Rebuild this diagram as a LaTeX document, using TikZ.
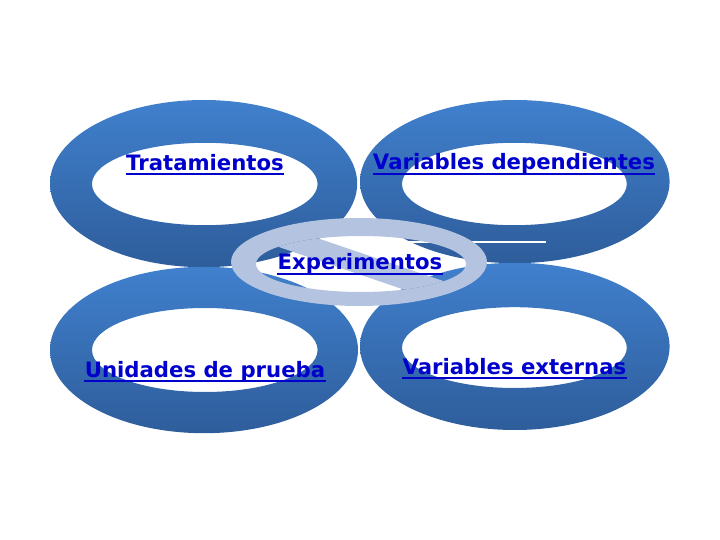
\documentclass[tikz,border=0pt]{standalone}
\usepackage{fontspec}
\setmainfont{DejaVu Sans}
\usepackage{tikz}
\usetikzlibrary{calc}
\definecolor{ringtop}{RGB}{64,128,205}
\definecolor{ringbot}{RGB}{46,93,155}
\definecolor{hubring}{RGB}{180,196,224}
\definecolor{linkblue}{RGB}{0,0,204}
\tikzset{
  ringshade/.style={top color=ringtop, bottom color=ringbot, even odd rule},
  linklabel/.style={text=linkblue, font=\bfseries\fontsize{15.1}{18}\selectfont,
                    inner sep=0pt, anchor=base},
  linkline/.style={draw=linkblue, line width=1.3pt}
}

\begin{document}
\begin{tikzpicture}
  \useasboundingbox (0,0) rectangle (18,13.5);
  % Four blue rings, lighter at the top
  \shade[ringshade] (5.09,8.91) ellipse (3.84 and 2.09) (5.12,8.9) ellipse (2.82 and 1.03);
  \shade[ringshade] (12.87,8.96) ellipse (3.87 and 2.04) (12.86,8.9) ellipse (2.81 and 1.03);
  \shade[ringshade] (5.1,4.75) ellipse (3.85 and 2.08) (5.12,4.75) ellipse (2.82 and 1.05);
  \shade[ringshade] (12.87,4.84) ellipse (3.87 and 2.09) (12.86,4.81) ellipse (2.81 and 1.01);
  % Thin white streak
  \draw[white, line width=1pt] (10.0,7.45) -- (13.65,7.45);
  % Centre ring with its slash
  \fill[hubring, even odd rule] (8.975,6.95) ellipse (3.2 and 1.1) (9.025,6.9) ellipse (2.625 and 0.7);
  \begin{scope}
    \clip (9.025,6.9) ellipse (2.625 and 0.7);
    \fill[hubring] (6.25,8.12) -- (11.875,6.205) -- (11.875,5.655) -- (6.25,7.57) -- cycle;
  \end{scope}
  % Labels, underlined like links
  \node[linklabel] (trat) at (5.125,9.23) {Tratamientos};
  \draw[linkline] ($(trat.base west)+(0,-0.09)$) -- ($(trat.base east)+(0,-0.09)$);
  \node[linklabel] (vardep) at (12.85,9.25) {Variables dependientes};
  \draw[linkline] ($(vardep.base west)+(0,-0.09)$) -- ($(vardep.base east)+(0,-0.09)$);
  \node[linklabel] (exper) at (9.0,6.75) {Experimentos};
  \draw[linkline] ($(exper.base west)+(0,-0.09)$) -- ($(exper.base east)+(0,-0.09)$);
  \node[linklabel] (unid) at (5.125,4.07) {Unidades de prueba};
  \draw[linkline] ($(unid.base west)+(0,-0.09)$) -- ($(unid.base east)+(0,-0.09)$);
  \node[linklabel] (varext) at (12.86,4.14) {Variables externas};
  \draw[linkline] ($(varext.base west)+(0,-0.09)$) -- ($(varext.base east)+(0,-0.09)$);
\end{tikzpicture}
\end{document}
